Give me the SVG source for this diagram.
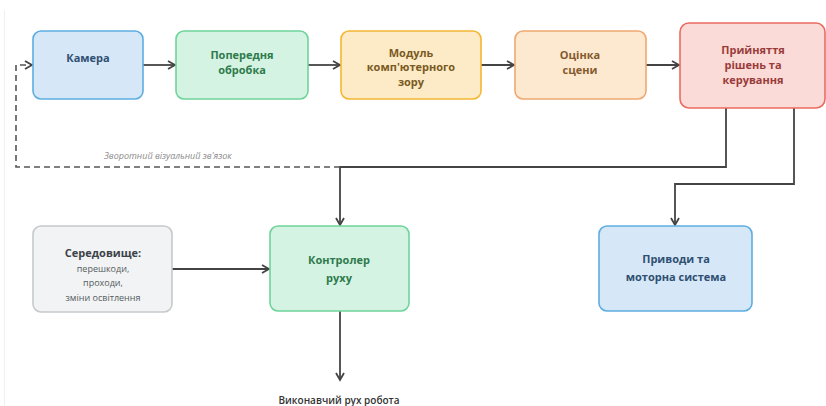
<svg xmlns="http://www.w3.org/2000/svg" width="826" height="406" viewBox="0 0 826 406">
<style>
  .box { stroke-width: 1.6; }
  .t { font-family: "Open Sans", "Noto Sans", sans-serif; font-size: 11px; font-weight: 700; text-anchor: middle; }
  .sub { font-family: "Open Sans", "Noto Sans", sans-serif; font-size: 9px; font-weight: 400; text-anchor: middle; fill: #555b60; }
  .c { fill: none; stroke: #444; stroke-width: 1.8; }
  .d { fill: none; stroke: #555; stroke-width: 1.6; stroke-dasharray: 6 4; }
  .lbl { font-family: "Open Sans", "Noto Sans", sans-serif; font-size: 9px; font-style: italic; fill: #8a8a8a; }
  .out { font-family: "Open Sans", "Noto Sans", sans-serif; font-size: 10px; font-weight: 600; text-anchor: middle; fill: #333; }
</style>
<defs>
  <marker id="arr" markerWidth="10" markerHeight="10" refX="8" refY="5" orient="auto" markerUnits="userSpaceOnUse">
    <path d="M1,1 L8,5 L1,9" fill="none" stroke="#444" stroke-width="1.8"/>
  </marker>
</defs>
<rect width="826" height="406" fill="#ffffff"/>
<line x1="4.5" y1="10" x2="4.5" y2="406" stroke="#f0f0f0" stroke-width="1"/>

<g id="connectors">
  <line class="c" x1="143" y1="65" x2="175" y2="65" marker-end="url(#arr)"/>
  <line class="c" x1="308" y1="65" x2="340" y2="65" marker-end="url(#arr)"/>
  <line class="c" x1="481" y1="65" x2="514" y2="65" marker-end="url(#arr)"/>
  <line class="c" x1="646" y1="65" x2="679" y2="65" marker-end="url(#arr)"/>
  <polyline class="c" points="726,108 726,167 340,167 340,225" marker-end="url(#arr)"/>
  <polyline class="c" points="794,108 794,184 675,184 675,225" marker-end="url(#arr)"/>
  <line class="c" x1="172" y1="269" x2="269" y2="269" marker-end="url(#arr)"/>
  <line class="c" x1="340" y1="311" x2="340" y2="380" marker-end="url(#arr)"/>
  <polyline class="d" points="340,167 16,167 16,65 32,65" marker-end="url(#arr)"/>
  <text class="lbl" x="104" y="159">Зворотний візуальний зв'язок</text>
</g>

<g id="camera">
  <rect class="box" x="33" y="31" width="110" height="68" rx="8" fill="#d6e8f7" stroke="#5dade2"/>
  <text class="t" x="88" y="62" fill="#2f4f73">Камера</text>
</g>
<g id="preprocess">
  <rect class="box" x="176" y="31" width="132" height="68" rx="8" fill="#d4f3e2" stroke="#6fd49a"/>
  <text class="t" x="242" y="59" fill="#2e7a4c">Попередня</text>
  <text class="t" x="242" y="74" fill="#2e7a4c">обробка</text>
</g>
<g id="cv">
  <rect class="box" x="341" y="31" width="140" height="68" rx="8" fill="#fdebc8" stroke="#f5b731"/>
  <text class="t" x="411" y="57" fill="#7a5a22">Модуль</text>
  <text class="t" x="411" y="71" fill="#7a5a22">комп'ютерного</text>
  <text class="t" x="411" y="86" fill="#7a5a22">зору</text>
</g>
<g id="scene">
  <rect class="box" x="515" y="31" width="131" height="68" rx="8" fill="#fde9cf" stroke="#f0a870"/>
  <text class="t" x="580" y="59" fill="#845a2e">Оцінка</text>
  <text class="t" x="580" y="74" fill="#845a2e">сцени</text>
</g>
<g id="decision">
  <rect class="box" x="680" y="23" width="145" height="85" rx="9" fill="#fadbd8" stroke="#ec6b60"/>
  <text class="t" x="753" y="54" fill="#9a3b3b">Прийняття</text>
  <text class="t" x="753" y="69" fill="#9a3b3b">рішень та</text>
  <text class="t" x="753" y="84" fill="#9a3b3b">керування</text>
</g>
<g id="environment">
  <rect class="box" x="33" y="226" width="139" height="86" rx="8" fill="#f1f3f4" stroke="#c5cacd"/>
  <text class="t" x="103" y="257" fill="#3c4248">Середовище:</text>
  <text class="sub" x="103" y="272">перешкоди,</text>
  <text class="sub" x="103" y="286">проходи,</text>
  <text class="sub" x="103" y="301">зміни освітлення</text>
</g>
<g id="controller">
  <rect class="box" x="270" y="226" width="139" height="85" rx="8" fill="#d4f3e2" stroke="#6fd49a"/>
  <text class="t" x="339" y="264" fill="#2e7a4c">Контролер</text>
  <text class="t" x="339" y="282" fill="#2e7a4c">руху</text>
</g>
<g id="actuators">
  <rect class="box" x="599" y="226" width="153" height="85" rx="8" fill="#d6e8f7" stroke="#5dade2"/>
  <text class="t" x="676" y="263" fill="#2f4f73">Приводи та</text>
  <text class="t" x="676" y="281" fill="#2f4f73">моторна система</text>
</g>
<g id="output">
  <text class="out" x="339" y="404">Виконавчий рух робота</text>
</g>
</svg>
